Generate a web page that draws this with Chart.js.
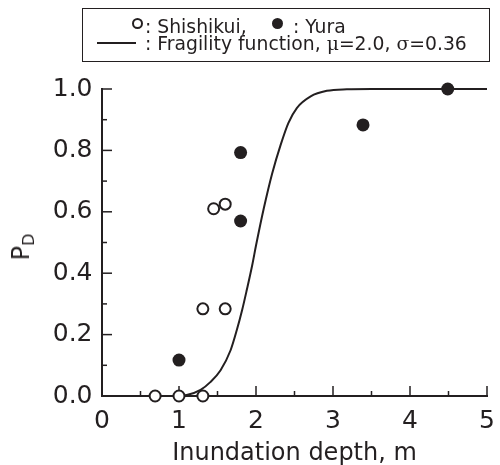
<!DOCTYPE html>
<html>
<head>
<meta charset="utf-8">
<script src="https://cdn.jsdelivr.net/npm/chart.js@4/dist/chart.umd.min.js"></script>
<style>
  html, body { margin: 0; padding: 0; background: #fff; }
  #wrap { position: relative; width: 500px; height: 465px; font-family: "DejaVu Sans", sans-serif; color: #231f20; }
  #c { position: absolute; left: 0; top: 0; }
  #legend { position: absolute; left: 82px; top: 8px; width: 406px; height: 52px; border: 1.5px solid #231f20; box-sizing: content-box; }
  .lt { position: absolute; font-size: 18.8px; line-height: 18px; white-space: nowrap; }
  .sym { font-family: "DejaVu Serif", "Liberation Serif", serif; }
  .mk { position: absolute; box-sizing: border-box; border-radius: 50%; }
  #ylab { position: absolute; left: 25px; top: 247px; font-size: 24px; line-height: 24px; white-space: nowrap;
          transform: translate(-50%, -50%) rotate(-90deg); }
  #ylab sub { font-size: 16px; vertical-align: -5px; }
</style>
</head>
<body>
<div id="wrap">
  <canvas id="c" width="500" height="465"></canvas>
  <div id="legend"></div>
  <div id="ylab">P<sub>D</sub></div>
</div>
<script>
// ---- data ----
const shishikuiX = [0.69, 1.00, 1.31, 1.31, 1.60, 1.45, 1.60];
const shishikuiY = [0.00, 0.00, 0.00, 0.284, 0.284, 0.610, 0.625];
const yuraX = [1.00, 1.80, 1.80, 3.39, 4.49];
const yuraY = [0.117, 0.793, 0.570, 0.883, 1.00];
const curveX = [0, 0.5, 1.0, 1.1, 1.28, 1.41, 1.54, 1.67, 1.75, 1.82, 1.88, 1.95, 2.0, 2.1, 2.21, 2.32, 2.42, 2.53, 2.71, 2.92, 3.18, 3.5, 4.0, 4.5, 5.0];
const curveY = [0, 0, 0.001, 0.003, 0.02, 0.046, 0.084, 0.149, 0.214, 0.28, 0.345, 0.425, 0.49, 0.61, 0.725, 0.818, 0.889, 0.938, 0.976, 0.994, 0.999, 1.0, 1.0, 1.0, 1.0];
const xTitle = "Inundation depth, m";
const legendSeries1 = ": Shishikui,";
const legendSeries2 = ": Yura";
const legendCurve = ': Fragility function, <span class="sym">\u03BC</span>=2.0, <span class="sym">\u03C3</span>=0.36';

const ink = '#231f20';
const toPts = (xs, ys) => xs.map((x, i) => ({ x: x, y: ys[i] }));

// legend (HTML overlay)
const lg = document.getElementById('legend');
lg.innerHTML =
  '<div class="mk" style="left:49px;top:9px;width:11px;height:11px;border:2px solid ' + ink + ';background:#fff"></div>' +
  '<div class="lt" style="left:62px;top:9px">' + legendSeries1 + '</div>' +
  '<div class="mk" style="left:189px;top:9px;width:11px;height:11px;background:' + ink + '"></div>' +
  '<div class="lt" style="left:210px;top:9px">' + legendSeries2 + '</div>' +
  '<div style="position:absolute;left:14px;top:33px;width:39px;height:2px;background:' + ink + '"></div>' +
  '<div class="lt" style="left:62px;top:26px">' + legendCurve + '</div>';

const isMajorX = v => Math.abs(v - Math.round(v)) < 1e-6;
const isMajorY = v => Math.round(v * 10) % 2 === 0;

// inward tick marks, placed through the library's own scales
const insideTicks = {
  id: 'insideTicks',
  beforeDatasetsDraw(chart) {
    const c = chart.ctx, a = chart.chartArea, sx = chart.scales.x, sy = chart.scales.y;
    c.save();
    c.strokeStyle = ink; c.lineWidth = 1.5;
    sx.ticks.forEach(t => {
      const p = sx.getPixelForValue(t.value), len = isMajorX(t.value) ? 10 : 5;
      c.beginPath(); c.moveTo(p, a.bottom); c.lineTo(p, a.bottom - len); c.stroke();
    });
    sy.ticks.forEach(t => {
      const p = sy.getPixelForValue(t.value), len = isMajorY(t.value) ? 10 : 5;
      c.beginPath(); c.moveTo(a.left, p); c.lineTo(a.left + len, p); c.stroke();
    });
    c.restore();
  }
};

const noScalePad = s => { s.paddingLeft = 0; s.paddingRight = 0; s.paddingTop = 0; s.paddingBottom = 0; };

new Chart(document.getElementById('c'), {
  type: 'scatter',
  data: {
    datasets: [
      { label: 'Yura', data: toPts(yuraX, yuraY), pointRadius: 6.5, pointBackgroundColor: ink, pointBorderColor: ink, pointBorderWidth: 0, clip: false },
      { label: 'Shishikui', data: toPts(shishikuiX, shishikuiY), pointRadius: 5.5, pointBackgroundColor: '#fff', pointBorderColor: ink, pointBorderWidth: 2, clip: false },
      { label: 'Fragility function', data: toPts(curveX, curveY), showLine: true, pointRadius: 0, borderColor: ink, borderWidth: 2, cubicInterpolationMode: 'monotone', clip: false }
    ]
  },
  plugins: [insideTicks],
  options: {
    responsive: false,
    animation: false,
    layout: { padding: { left: 0, top: 89, right: 13, bottom: 0 } },
    plugins: { legend: { display: false }, tooltip: { enabled: false } },
    scales: {
      x: {
        type: 'linear', min: 0, max: 5,
        afterFit: s => { s.height = 69; noScalePad(s); },
        border: { display: true, color: ink, width: 2 },
        grid: { display: true, drawOnChartArea: false, drawTicks: false },
        ticks: {
          stepSize: 0.5, autoSkip: false, maxRotation: 0, padding: 10, color: ink,
          font: { family: 'DejaVu Sans', size: 25 },
          callback: v => isMajorX(v) ? String(Math.round(v)) : ''
        },
        title: { display: true, text: xTitle, color: ink, padding: { top: 0, bottom: -3 }, font: { family: 'DejaVu Sans', size: 24 } }
      },
      y: {
        type: 'linear', min: 0, max: 1,
        afterFit: s => { s.width = 102; noScalePad(s); },
        border: { display: true, color: ink, width: 2 },
        grid: { display: true, drawOnChartArea: false, drawTicks: false },
        ticks: {
          stepSize: 0.1, autoSkip: false, padding: 9.5, color: ink,
          font: { family: 'DejaVu Sans', size: 25 },
          callback: v => isMajorY(v) ? v.toFixed(1) : ''
        }
      }
    }
  }
});
</script>
</body>
</html>
